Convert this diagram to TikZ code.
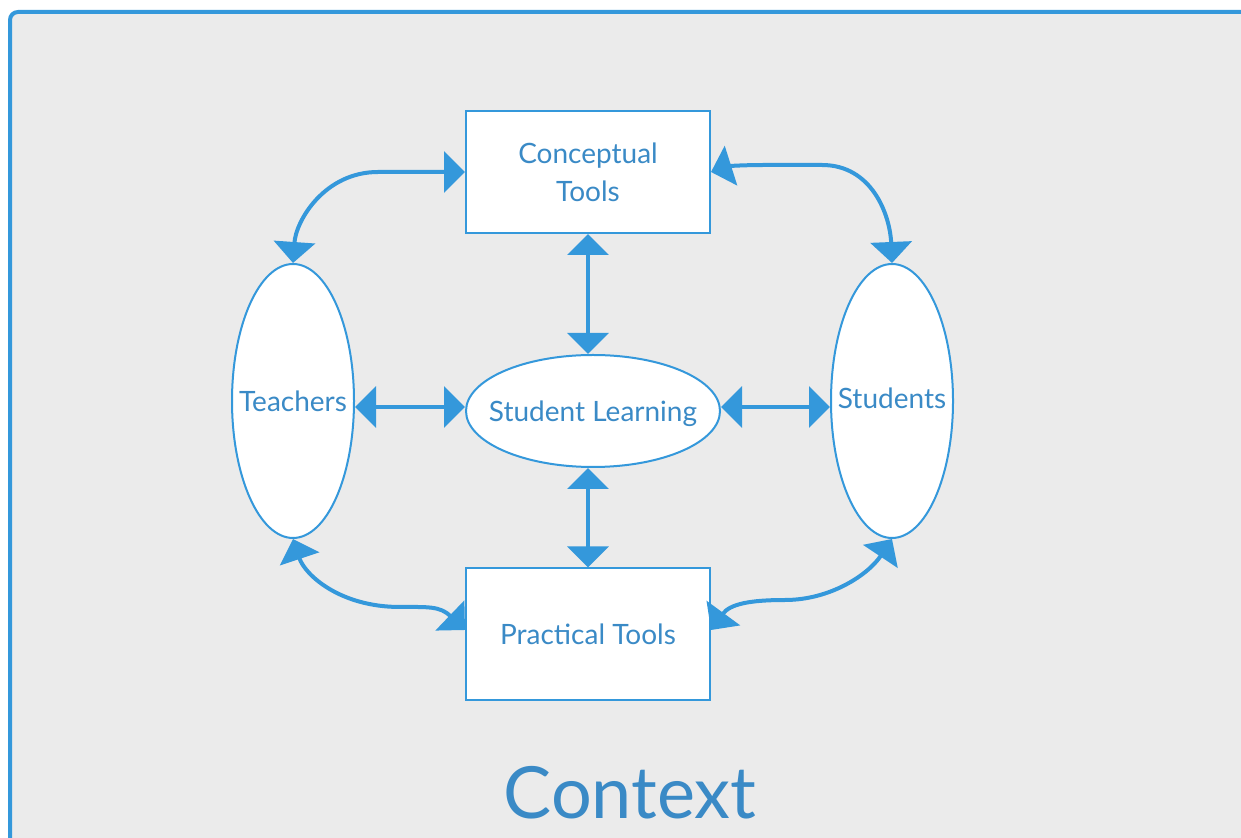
\documentclass[tikz,border=0pt]{standalone}
\usepackage{fontspec}
\setmainfont{Lato}
\usetikzlibrary{arrows.meta,shapes.geometric}
\definecolor{panel}{RGB}{235,235,235}
\definecolor{edge}{RGB}{52,152,219}
\definecolor{ink}{RGB}{58,138,198}
\begin{document}
\begin{tikzpicture}[x=0.5pt,y=-0.5pt,
  box/.style={draw=edge, line width=1pt, fill=white, minimum width=122pt,
    minimum height=61pt, inner sep=0pt, text=ink,
    font=\fontsize{14}{19}\selectfont, align=center},
  oval/.style={ellipse, draw=edge, line width=1pt, fill=white, inner sep=0pt},
  lbl/.style={text=ink, font=\fontsize{14}{19}\selectfont},
  link/.style={draw=edge, line width=2pt,
    {Triangle[length=10.5pt,width=20.5pt]}-{Triangle[length=10.5pt,width=20.5pt]}}]

% page and context panel
\clip (0,0) rectangle (1241,838);
\fill[white] (0,0) rectangle (1241,838);
\fill[panel, rounded corners=4pt] (10,12) rectangle (1260,860);
\draw[edge, line width=2pt, rounded corners=4pt] (1260,12) -- (10,12) -- (10,860);

% nodes
\node[box] (ct) at (588,172) {Conceptual\\Tools};
\node[box, minimum height=65.5pt] (pt) at (588,634) {Practical Tools};
\node[oval, minimum width=61pt, minimum height=137pt,
  label={[lbl]center:Teachers}] (teach) at (293,401) {};
\node[oval, minimum width=61pt, minimum height=137pt,
  label={[lbl, yshift=1.5pt]center:Students}] (stud) at (892,401) {};
\node[oval, minimum width=127pt, minimum height=56pt,
  label={[lbl, yshift=-1.5pt]center:Student Learning}] (sl) at (593,411) {};

% straight links around the centre
\draw[link] (ct.south) -- (ct.south |- sl.north);
\draw[link] (pt.north) -- (pt.north |- sl.south);
\coordinate (hl) at ([yshift=2pt]sl.west);
\coordinate (hr) at ([yshift=2pt]sl.east);
\draw[link] (teach.east |- hl) -- (hl);
\draw[link] (hr) -- (stud.west |- hr);

% curved links on the outer ring
\draw[link] (teach.north) .. controls (296,220) and (325,172) .. (378,172) -- (ct.west);
\draw[link] (ct.east) .. controls (730,166) and (745,165) .. (765,165) -- (822,165)
  .. controls (872,165) and (890,215) .. (stud.north);
\coordinate (pl) at ([yshift=2pt]pt.west);
\coordinate (pr) at ([yshift=2pt]pt.east);
\draw[link] (teach.south) .. controls (305,575) and (340,607) .. (400,607)
  .. controls (428,607) and (440,606) .. (pl);
\draw[link] (stud.south) .. controls (868,575) and (830,600) .. (785,600)
  .. controls (750,600) and (730,604) .. (pr);

% caption
\node[text=ink, font=\fontsize{36}{40}\selectfont, anchor=base] (ctx) at (630,818) {Context};
\end{tikzpicture}
\end{document}
